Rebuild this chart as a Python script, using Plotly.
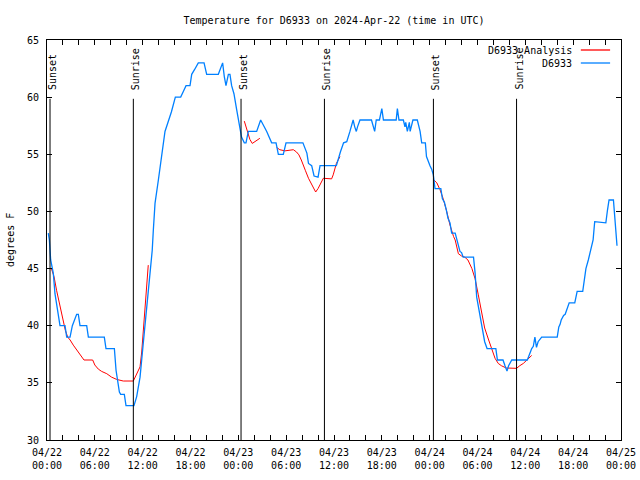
import pandas as pd
import plotly.graph_objects as go

BASE = pd.Timestamp("2024-04-22 00:00")

# D6933 observations: hours since 2024-04-22 00:00 UTC, temperature (F)
obs_hours = [0.16, 0.3, 0.46, 0.79, 1.0, 1.2, 1.42, 1.63, 2.26, 2.47, 2.89, 3.18, 3.72, 3.93, 4.14,
             4.98, 5.19, 7.19, 7.4, 8.45, 8.66, 8.87, 9.08, 9.24, 9.7, 9.91, 10.91, 11.25, 11.67,
             12.08, 12.5, 12.92, 13.2, 13.34, 13.55, 13.97, 14.38, 14.8, 15.2, 15.6, 16.1, 16.77,
             17.1, 17.44, 17.94, 18.15, 18.5, 18.98, 19.7, 20.03, 21.49, 22.03, 22.24, 22.45,
             22.75, 22.95, 23.16, 23.45, 23.79, 24.0, 24.2, 24.4, 24.75, 24.96, 25.25, 26.3, 26.8,
             27.56, 28.18, 28.73, 29.02, 29.64, 29.98, 32.1, 32.6, 32.8, 33.2, 33.5, 34.0, 34.25,
             36.3, 36.6, 36.8, 37.2, 37.6, 38.0, 38.2, 38.4, 38.6, 38.8, 38.95, 39.26, 40.7, 41.1,
             41.3, 41.7, 42.0, 42.2, 43.8, 43.95, 44.15, 44.7, 44.9, 45.0, 45.2, 45.45, 45.55,
             45.9, 46.45, 46.8, 47.0, 47.46, 47.6, 47.8, 48.04, 48.25, 48.46, 48.67, 49.4, 49.6,
             49.85, 50.1, 50.3, 50.55, 50.76, 51.2, 51.4, 51.6, 51.8, 52.0, 52.2, 53.5, 53.7,
             53.9, 54.1, 54.3, 54.5, 54.7, 54.9, 55.2, 56.3, 56.5, 57.2, 57.45, 57.7, 57.9, 58.3,
             60.25, 60.6, 60.8, 61.0, 61.2, 61.4, 61.6, 62.05, 64.0, 64.2, 64.35, 64.5, 64.8,
             65.0, 65.5, 66.2, 66.5, 67.2, 67.6, 67.9, 68.1, 68.3, 68.5, 68.7, 70.1, 70.3, 70.5,
             71.05, 71.25, 71.46, 71.5]
obs_temps = [48.1, 47.5, 45.75, 44.6, 42.8, 42.0, 40.8, 40.0, 40.0, 39.0, 39.0, 40.0, 41.0, 41.0, 40.0,
             40.0, 39.0, 39.0, 38.0, 38.0, 36.1, 35.1, 34.2, 34.0, 34.0, 33.0, 33.0, 33.8, 35.5,
             38.5, 41.4, 44.6, 46.6, 48.4, 50.7, 52.75, 54.8, 57.0, 57.85, 58.7, 60.0, 60.0,
             60.5, 61.0, 61.0, 62.0, 62.4, 63.0, 63.0, 62.0, 62.0, 63.0, 61.8, 61.0,
             62.0, 62.0, 61.0, 60.3, 58.9, 58.1, 57.1, 56.5, 56.0, 56.0, 57.0, 57.0, 58.0,
             57.0, 56.0, 56.0, 55.0, 55.0, 56.0, 56.0, 55.1, 54.2, 54.0, 53.1, 53.0, 54.0,
             54.0, 54.8, 55.2, 56.0, 56.1, 57.0, 57.6, 58.0, 57.4, 57.0, 57.4, 58.0, 58.0, 57.0,
             58.0, 58.0, 59.0, 58.0, 58.0, 59.0, 58.0, 58.0, 57.4, 57.8, 57.0, 57.8, 57.0,
             58.0, 58.0, 57.0, 56.0, 56.0, 54.8, 54.4, 54.0, 53.7, 53.2, 52.0, 52.0, 51.1,
             50.8, 50.1, 49.4, 49.0, 48.1, 48.1, 47.5, 46.9, 46.5, 46.4, 46.0, 46.0, 44.6,
             42.5, 41.7, 40.9, 40.0, 39.2, 38.6, 38.0, 38.0, 37.0, 37.0, 36.5, 36.04, 36.5, 37.0,
             37.0, 37.7, 38.0, 38.2, 39.0, 38.1, 38.6, 39.0, 39.0, 39.9, 40.1, 40.5, 40.9,
             41.0, 42.0, 42.0, 43.0, 43.0, 45.0, 45.75, 46.4, 46.8, 47.5, 49.1, 49.0, 50.1, 51.0,
             51.0, 49.5, 47.5, 47.0]

# D6933 Analysis (None = gap)
ana_hours = [0.55, 0.88, 1.2, 1.42, 1.63, 1.85, 2.05, 2.3, 2.6, 2.9, 3.3, 3.72, 4.14, 4.64, 5.73, 6.0,
             6.44, 6.86, 7.5, 8.1, 8.74, 9.57, 10.83, 11.04, 11.35, 11.67, 11.88, 12.08, 12.3, 12.5,
             12.7, 12.8,
             24.75, 24.95, 25.25, 25.45, 25.75, 26.1, 26.7, 26.8,
             28.8, 29.2, 29.85, 30.5, 30.9, 31.3, 31.6, 31.9, 32.1, 32.4, 32.8, 33.2, 33.7, 34.0,
             34.25, 34.66, 35.7, 35.9, 36.3, 36.75, 36.85,
             48.46, 48.9, 49.3, 49.7, 50.1, 50.55, 51.0, 51.2, 51.6, 52.0, 52.4, 52.8, 53.3, 53.7,
             54.1, 54.5, 54.9, 55.4, 55.8, 56.2, 56.6, 57.0, 57.6, 58.9, 59.3, 59.75, 60.2, 60.8]
ana_temps = [45.0, 44.3, 43.1, 42.4, 41.7, 40.9, 40.2, 39.6, 39.0, 38.75, 38.3, 37.9, 37.4, 37.0, 37.0, 36.56,
             36.2, 36.0, 35.8, 35.5, 35.3, 35.16, 35.16, 35.5, 36.0, 36.4, 37.7, 39.6, 41.4, 43.4,
             45.3, None,
             57.9, 57.4, 56.8, 56.3, 55.95, 56.1, 56.4, None,
             55.6, 55.4, 55.3, 55.4, 55.4, 55.2, 54.95, 54.5, 54.06, 53.6, 52.9, 52.3, 51.7, 52.0,
             52.3, 52.9, 52.85, 53.2, 54.2, 54.8, None,
             52.8, 52.5, 51.9, 51.1, 50.1, 48.8, 47.8, 47.5, 46.3, 46.1, 46.0, 45.75, 45.0, 44.1,
             42.7, 41.2, 39.8, 38.75, 37.9, 37.15, 36.7, 36.5, 36.3, 36.27, 36.5, 36.7, 37.0, 37.4]

# Sun events (hours since 2024-04-22 00:00 UTC)
event_hours = [0.38, 10.83, 24.34, 34.8, 48.47, 58.9]
event_labels = ["Sunset", "Sunrise", "Sunset", "Sunrise", "Sunset", "Sunrise"]

# X tick labels every 6 hours
tick_hours = list(range(0, 73, 6))
tick_labels = [(BASE + pd.Timedelta(hours=h)).strftime("%m/%d<br>%H:%M") for h in tick_hours]

FONT = "DejaVu Sans Mono"
RED = "#ff0000"
BLUE = "#0080ff"


def to_time(hours):
    return [BASE + pd.Timedelta(hours=h) for h in hours]


fig = go.Figure()
fig.add_trace(go.Scatter(x=to_time(ana_hours), y=ana_temps, mode="lines",
                         line=dict(color=RED, width=1), connectgaps=False,
                         name="D6933 Analysis", showlegend=False))
fig.add_trace(go.Scatter(x=to_time(obs_hours), y=obs_temps, mode="lines",
                         line=dict(color=BLUE, width=1.3),
                         name="D6933", showlegend=False))

shapes = []
annotations = []
for h, lab in zip(event_hours, event_labels):
    t = BASE + pd.Timedelta(hours=h)
    shapes.append(dict(type="line", xref="x", yref="paper", x0=t, x1=t, y0=0, y1=0.853,
                       line=dict(color="black", width=1)))
    annotations.append(dict(x=t, xref="x", y=0.87, yref="paper", text=lab, textangle=-90,
                            showarrow=False, xanchor="center", yanchor="bottom", xshift=2,
                            font=dict(family=FONT, size=10, color="black")))

# legend (gnuplot style: text then sample line on the right)
legend_items = [("D6933 Analysis", RED, 0.975), ("D6933", BLUE, 0.9425)]
for text, col, yy in legend_items:
    annotations.append(dict(x=0.918, xref="paper", y=yy, yref="paper", text=text,
                            showarrow=False, xanchor="right", yanchor="middle",
                            font=dict(family=FONT, size=10, color="black")))
    shapes.append(dict(type="line", xref="paper", yref="paper", x0=0.930, x1=0.981,
                       y0=yy, y1=yy, line=dict(color=col, width=1.3)))

annotations.append(dict(x=-0.0645, xref="paper", y=0.5, yref="paper", text="degrees F",
                        textangle=-90, showarrow=False, xanchor="center", yanchor="middle",
                        font=dict(family=FONT, size=10, color="black")))

fig.update_layout(
    width=640, height=480,
    margin=dict(l=47, r=19, t=40, b=40, autoexpand=False),
    paper_bgcolor="white", plot_bgcolor="white",
    font=dict(family=FONT, size=10, color="black"),
    title=dict(text="Temperature for D6933 on 2024-Apr-22 (time in UTC)",
               x=0.5, xref="paper", y=1 - 20 / 480, yref="container",
               xanchor="center", yanchor="middle",
               font=dict(family=FONT, size=10, color="black")),
    shapes=shapes, annotations=annotations, showlegend=False,
)
fig.update_xaxes(
    type="date", range=[BASE, BASE + pd.Timedelta(hours=72)],
    tickvals=to_time(tick_hours), ticktext=tick_labels,
    ticks="inside", ticklen=5, tickcolor="black", tickwidth=1,
    minor=dict(ticks="inside", ticklen=5, dtick=2 * 3600 * 1000, tick0=BASE, tickcolor="black"),
    showline=True, linecolor="black", linewidth=1, mirror="ticks",
    showgrid=False, zeroline=False, automargin=False, ticklabelstandoff=3,
    tickfont=dict(family=FONT, size=10, color="black"),
)
fig.update_yaxes(
    range=[30, 65], dtick=5, tick0=30,
    ticks="inside", ticklen=5, tickcolor="black", tickwidth=1,
    showline=True, linecolor="black", linewidth=1, mirror="ticks",
    showgrid=False, zeroline=False, automargin=False, ticklabelstandoff=5,
    tickfont=dict(family=FONT, size=10, color="black"),
)

fig.write_html("out.html", config={"displayModeBar": False},
               post_script="document.body.style.margin='0';")
